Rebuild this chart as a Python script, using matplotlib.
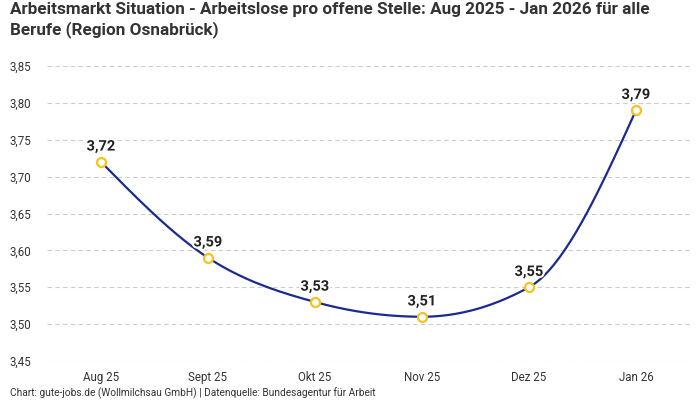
import numpy as np
import matplotlib
matplotlib.use("Agg")
import matplotlib.pyplot as plt
import matplotlib.patheffects as pe
from matplotlib.ticker import FuncFormatter

# data
months = ["Aug 25", "Sept 25", "Okt 25", "Nov 25", "Dez 25", "Jan 26"]
ratio = [3.72, 3.59, 3.53, 3.51, 3.55, 3.79]
y_ticks = [3.45, 3.50, 3.55, 3.60, 3.65, 3.70, 3.75, 3.80, 3.85]

plt.rcParams['font.family'] = ['Roboto', 'DejaVu Sans']

line_color = "#1b2a8f"
dot_color = "#f7c21c"


def monotone_curve(xs, ys, n=40):
    # monotone cubic (like d3 curveMonotoneX)
    xs = np.asarray(xs, float)
    ys = np.asarray(ys, float)
    h = np.diff(xs)
    s = np.diff(ys) / h
    m = np.zeros(len(xs))
    for i in range(1, len(xs) - 1):
        p = (s[i - 1] * h[i] + s[i] * h[i - 1]) / (h[i - 1] + h[i])
        m[i] = (np.sign(s[i - 1]) + np.sign(s[i])) * min(abs(s[i - 1]), abs(s[i]), 0.5 * abs(p))
    m[0] = (3 * s[0] - m[1]) / 2
    m[-1] = (3 * s[-1] - m[-2]) / 2
    px, py = [], []
    for i in range(len(xs) - 1):
        t = np.linspace(0, 1, n)
        h00 = 2 * t**3 - 3 * t**2 + 1
        h10 = t**3 - 2 * t**2 + t
        h01 = -2 * t**3 + 3 * t**2
        h11 = t**3 - t**2
        px.extend(xs[i] + t * h[i])
        py.extend(h00 * ys[i] + h10 * h[i] * m[i] + h01 * ys[i + 1] + h11 * h[i] * m[i + 1])
    return np.array(px), np.array(py)


x = np.arange(len(months))
cx, cy = monotone_curve(x, ratio)

fig = plt.figure(figsize=(7, 4), dpi=100)
ax = fig.add_axes([47.5 / 700, 39 / 400, 642 / 700, 295 / 400])

ax.plot(cx, cy, color=line_color, linewidth=1.6, zorder=3)
ax.scatter(x, ratio, s=42, facecolor="white", edgecolor=dot_color, linewidth=1.6, zorder=4)

for xi, v in zip(x, ratio):
    ax.annotate(f"{v:.2f}".replace(".", ","), (xi, v), xytext=(0, 6), textcoords="offset points",
                ha="center", va="bottom", fontsize=10.5, fontweight="bold", color="#222222",
                path_effects=[pe.withStroke(linewidth=3, foreground="white")], zorder=5)

ax.set_xlim(-0.5, len(months) - 0.5)
ax.set_ylim(3.45, 3.85)
ax.set_xticks(x)
ax.set_xticklabels(months)
ax.set_yticks(y_ticks)
ax.yaxis.set_major_formatter(FuncFormatter(lambda v, p: f"{v:.2f}".replace(".", ",")))
ax.tick_params(length=0, labelsize=8.3, colors="#333333")
ax.tick_params(axis="x", pad=7)
ax.tick_params(axis="y", pad=27)
for lbl in ax.get_yticklabels():
    lbl.set_horizontalalignment("left")
for sp in ax.spines.values():
    sp.set_visible(False)
ax.grid(axis="y", color="#cccccc", linestyle=(0, (4, 3)), linewidth=0.8)
ax.set_axisbelow(True)

fig.text(10 / 700, 1 - 2 / 400, "Arbeitsmarkt Situation - Arbeitslose pro offene Stelle: Aug 2025 - Jan 2026 für alle\nBerufe (Region Osnabrück)",
         ha="left", va="top", fontsize=12.3, fontweight="bold", color="#333333", linespacing=1.3)
fig.text(10 / 700, 7 / 400, "Chart: gute-jobs.de (Wollmilchsau GmbH) | Datenquelle: Bundesagentur für Arbeit",
         ha="left", va="center", fontsize=7.3, color="#333333")

fig.savefig("out.png", dpi=100)
